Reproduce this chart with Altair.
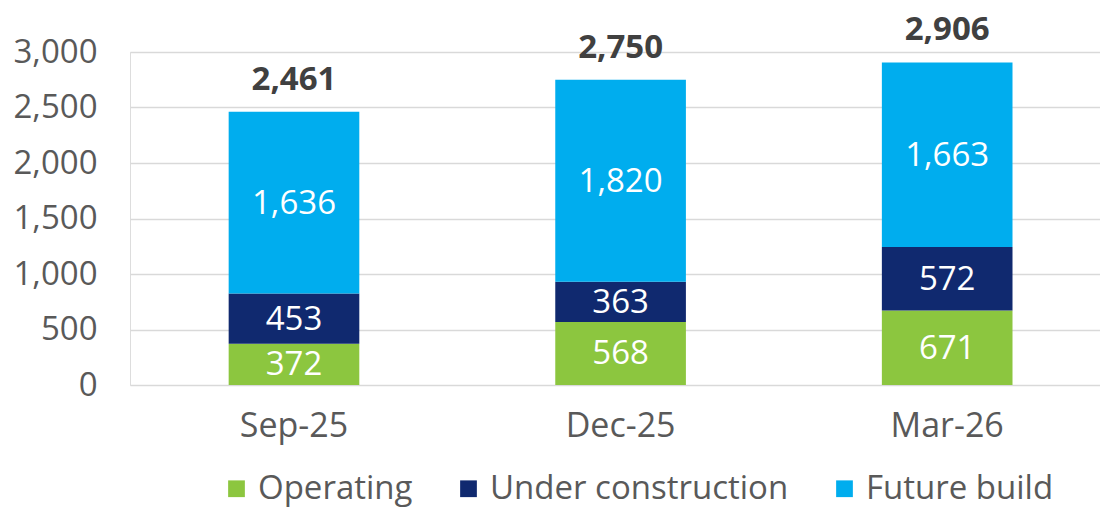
import altair as alt
import pandas as pd

periods = ["Sep-25", "Dec-25", "Mar-26"]
series = ["Operating", "Under construction", "Future build"]
operating = [372, 568, 671]
under_construction = [453, 363, 572]
future_build = [1636, 1820, 1663]
totals = [2461, 2750, 2906]
colors = ["#8CC63F", "#10296F", "#00ADEE"]

rows = []
for i, p in enumerate(periods):
    for k, (s, vals) in enumerate(zip(series, [operating, under_construction, future_build])):
        rows.append({"period": p, "series": s, "value": vals[i], "order": k})
df = pd.DataFrame(rows)
tot = pd.DataFrame({"period": periods, "total": totals})

FONT = "Open Sans"
xscale = alt.Scale(paddingInner=0.6, paddingOuter=0.285, align=0.53)
xaxis = alt.Axis(labelAngle=0, labelFontSize=34, labelColor="#595959",
                 labelPadding=24, ticks=False, domain=False, labelFont=FONT)
yscale = alt.Scale(domain=[0, 3000])
yaxis = alt.Axis(values=[0, 500, 1000, 1500, 2000, 2500, 3000], format=",d",
                 labelFontSize=33, labelColor="#595959", labelPadding=33,
                 ticks=False, domain=False, gridColor="#D9D9D9", gridWidth=1.5,
                 labelFont=FONT)

bars = alt.Chart(df).mark_bar().encode(
    x=alt.X("period:N", sort=periods, title=None, scale=xscale, axis=xaxis),
    y=alt.Y("value:Q", stack="zero", title=None, scale=yscale, axis=yaxis),
    color=alt.Color("series:N", sort=series,
                    scale=alt.Scale(domain=series, range=colors),
                    legend=alt.Legend(title=None, orient="none", legendX=90, legendY=420,
                                      direction="horizontal", labelFontSize=33,
                                      labelColor="#595959", labelFont=FONT,
                                      labelLimit=0,
                                      symbolType="square", symbolSize=280,
                                      symbolStrokeWidth=0, columnPadding=39,
                                      labelOffset=5)),
    order=alt.Order("order:Q"),
)

inner = alt.Chart(df).transform_stack(
    stack="value", groupby=["period"], as_=["y0", "y1"], sort=[alt.SortField("order")]
).transform_calculate(mid="(datum.y0 + datum.y1) / 2").mark_text(
    color="white", fontSize=33, font=FONT, baseline="middle", dy=1
).encode(
    x=alt.X("period:N", sort=periods, title=None, scale=xscale, axis=xaxis),
    y=alt.Y("mid:Q", title=None, scale=yscale, axis=yaxis),
    text=alt.Text("value:Q", format=","),
)

top = alt.Chart(tot).mark_text(
    color="#404040", fontSize=33, fontWeight="bold", font=FONT, baseline="alphabetic", dy=-22
).encode(
    x=alt.X("period:N", sort=periods, title=None, scale=xscale, axis=xaxis),
    y=alt.Y("total:Q", title=None, scale=yscale, axis=yaxis),
    text=alt.Text("total:Q", format=","),
)

chart = alt.layer(bars, inner, top).properties(
    width=970, height=333,
    autosize=alt.AutoSizeParams(type="none"),
    padding={"left": 130, "top": 52, "right": 0, "bottom": 126},
).configure_view(stroke=None).configure(background="white")

chart.save("out.html", embed_options={"renderer": "svg", "actions": False})
